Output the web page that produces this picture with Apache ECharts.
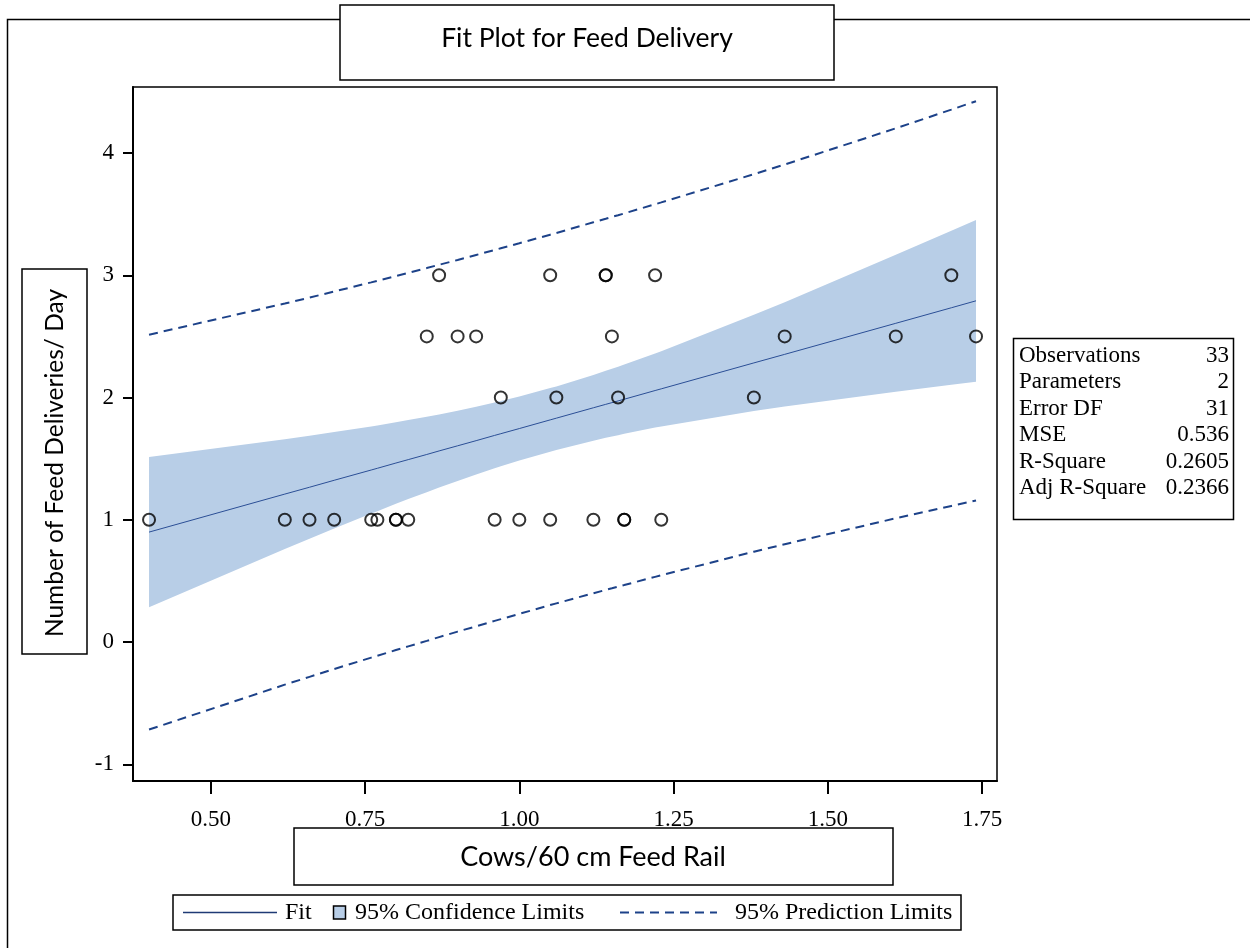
<!DOCTYPE html>
<html>
<head>
<meta charset="utf-8">
<script src="https://cdn.jsdelivr.net/npm/echarts@6/dist/echarts.min.js"></script>
<style>
  html, body { margin: 0; padding: 0; background: #fff; }
  #chart { width: 1250px; height: 948px; }
</style>
</head>
<body>
<div id="chart"></div>
<script>
// Observations: cows per 60 cm of feed rail vs. feed deliveries per day
const obsX = [0.40, 0.62, 0.66, 0.70, 0.76, 0.77, 0.80, 0.80, 0.82, 0.96, 1.00, 1.05, 1.12, 1.17, 1.17, 1.23,
              0.97, 1.06, 1.16, 1.38,
              0.85, 0.90, 0.93, 1.15, 1.43, 1.61, 1.74,
              0.87, 1.05, 1.14, 1.14, 1.22, 1.70];
const obsY = [1, 1, 1, 1, 1, 1, 1, 1, 1, 1, 1, 1, 1, 1, 1, 1,
              2, 2, 2, 2,
              2.5, 2.5, 2.5, 2.5, 2.5, 2.5, 2.5,
              3, 3, 3, 3, 3, 3];

// Fitted line, confidence band and prediction limits at the observed x values
const bandX   = [0.40, 0.62, 0.66, 0.70, 0.76, 0.77, 0.80, 0.82, 0.85, 0.87, 0.90, 0.93, 0.96, 0.97, 1.00,
                 1.05, 1.06, 1.12, 1.14, 1.15, 1.16, 1.17, 1.22, 1.23, 1.38, 1.43, 1.61, 1.70, 1.74];
const fitY    = [0.899, 1.210, 1.266, 1.323, 1.407, 1.421, 1.464, 1.492, 1.534, 1.563, 1.605, 1.647, 1.690, 1.704, 1.746,
                 1.817, 1.831, 1.916, 1.944, 1.958, 1.972, 1.986, 2.057, 2.071, 2.283, 2.353, 2.607, 2.734, 2.791];
const ciLower = [0.284, 0.761, 0.845, 0.929, 1.051, 1.070, 1.130, 1.169, 1.226, 1.264, 1.318, 1.370, 1.421, 1.437, 1.484,
                 1.557, 1.571, 1.647, 1.670, 1.681, 1.692, 1.703, 1.754, 1.763, 1.889, 1.926, 2.047, 2.104, 2.129];
const ciUpper = [1.514, 1.659, 1.687, 1.717, 1.763, 1.772, 1.798, 1.815, 1.842, 1.862, 1.892, 1.924, 1.959, 1.971, 2.008,
                 2.077, 2.091, 2.185, 2.218, 2.235, 2.252, 2.269, 2.360, 2.379, 2.677, 2.780, 3.167, 3.364, 3.453];
const piLower = [-0.716, -0.349, -0.285, -0.221, -0.128, -0.113, -0.066, -0.036, 0.009, 0.040, 0.085, 0.128, 0.173, 0.187, 0.230,
                 0.302, 0.316, 0.399, 0.426, 0.439, 0.453, 0.466, 0.533, 0.546, 0.739, 0.800, 1.012, 1.113, 1.158];
const piUpper = [2.514, 2.769, 2.817, 2.867, 2.942, 2.955, 2.994, 3.020, 3.059, 3.086, 3.125, 3.166, 3.207, 3.221, 3.262,
                 3.332, 3.346, 3.433, 3.462, 3.477, 3.491, 3.506, 3.581, 3.596, 3.827, 3.906, 4.202, 4.355, 4.424];

// Axis ticks
const xTicks = [0.50, 0.75, 1.00, 1.25, 1.50, 1.75];
const yTicks = [-1, 0, 1, 2, 3, 4];

// Texts
const chartTitle = 'Fit Plot for Feed Delivery';
const xTitle = 'Cows/60 cm Feed Rail';
const yTitle = 'Number of Feed Deliveries/ Day';
const statNames = ['Observations', 'Parameters', 'Error DF', 'MSE', 'R-Square', 'Adj R-Square'];
const statValues = ['33', '2', '31', '0.536', '0.2605', '0.2366'];
const legendNames = ['Fit', '95% Confidence Limits', '95% Prediction Limits'];

const SANS = 'Lato';
const SERIF = '"Liberation Serif", "Times New Roman", serif';
const BAND = '#b8cee7';
const FIT = '#2b4f96';
const PRED = '#1d4289';

const chart = echarts.init(document.getElementById('chart'), null, { renderer: 'canvas' });

const pairs = (xs, ys) => xs.map((x, i) => [x, ys[i]]);

// framed text box helper
function box(x, y, w, h) {
  return { type: 'rect', shape: { x: x, y: y, width: w, height: h },
           style: { fill: '#fff', stroke: '#000', lineWidth: 1.5 }, z: 10 };
}

const graphics = [
  // outer frame (left and top edges)
  { type: 'polyline', shape: { points: [[7.5, 948], [7.5, 19.5], [1250, 19.5]] },
    style: { stroke: '#000', lineWidth: 1.5, fill: null }, z: 5 },
  box(340, 5, 494, 75),
  { type: 'text', x: 587, y: 38, z: 11,
    style: { text: chartTitle, font: '26.5px ' + SANS, fill: '#000', align: 'center', verticalAlign: 'middle' } },
  box(22, 269, 65, 385),
  { type: 'text', x: 55, y: 463, rotation: Math.PI / 2, z: 11,
    style: { text: yTitle, font: '24.5px ' + SANS, fill: '#000', align: 'center', verticalAlign: 'middle' } },
  box(294, 828, 599, 57),
  { type: 'text', x: 593, y: 857, z: 11,
    style: { text: xTitle, font: '27px ' + SANS, fill: '#000', align: 'center', verticalAlign: 'middle' } },
  // legend
  box(173, 895, 788, 35),
  { type: 'line', shape: { x1: 183, y1: 912.5, x2: 277, y2: 912.5 }, style: { stroke: '#1f3a75', lineWidth: 1.5 }, z: 11 },
  { type: 'text', x: 285, y: 913, z: 11,
    style: { text: legendNames[0], font: '24px ' + SERIF, fill: '#000', align: 'left', verticalAlign: 'middle' } },
  { type: 'rect', shape: { x: 333.5, y: 906, width: 12, height: 13 },
    style: { fill: BAND, stroke: '#000', lineWidth: 1.5 }, z: 11 },
  { type: 'text', x: 355, y: 913, z: 11,
    style: { text: legendNames[1], font: '24px ' + SERIF, fill: '#000', align: 'left', verticalAlign: 'middle' } },
  { type: 'line', shape: { x1: 620, y1: 912.5, x2: 717, y2: 912.5 },
    style: { stroke: PRED, lineWidth: 2, lineDash: [9, 6] }, z: 11 },
  { type: 'text', x: 735, y: 913, z: 11,
    style: { text: legendNames[2], font: '24px ' + SERIF, fill: '#000', align: 'left', verticalAlign: 'middle' } },
  // fit statistics table
  box(1013.5, 338.5, 220, 181)
];
statNames.forEach((name, i) => {
  const cy = 356 + i * 26.4;
  graphics.push({ type: 'text', x: 1019, y: cy, z: 11,
    style: { text: name, font: '23px ' + SERIF, fill: '#000', align: 'left', verticalAlign: 'middle' } });
  graphics.push({ type: 'text', x: 1229, y: cy, z: 11,
    style: { text: statValues[i], font: '23px ' + SERIF, fill: '#000', align: 'right', verticalAlign: 'middle' } });
});

const option = {
  animation: false,
  backgroundColor: '#fff',
  grid: { left: 133, top: 87, width: 864, height: 694, show: true,
          borderColor: '#000', borderWidth: 1.5, backgroundColor: 'transparent' },
  xAxis: {
    type: 'value', min: 0.374, max: 1.774,
    splitLine: { show: false },
    axisLine: { show: true, onZero: false, lineStyle: { color: '#000', width: 2 } },
    axisTick: { show: true, customValues: xTicks, length: 13, lineStyle: { color: '#000', width: 2 } },
    axisLabel: { customValues: xTicks, margin: 27, color: '#000', fontFamily: SERIF, fontSize: 23,
                 formatter: v => v.toFixed(2) }
  },
  yAxis: {
    type: 'value', min: -1.137, max: 4.54,
    splitLine: { show: false },
    axisLine: { show: true, onZero: false, lineStyle: { color: '#000', width: 2 } },
    axisTick: { show: true, customValues: yTicks, length: 10, lineStyle: { color: '#000', width: 2 } },
    axisLabel: { customValues: yTicks, margin: 19, color: '#000', fontFamily: SERIF, fontSize: 23,
                 formatter: v => String(v) }
  },
  series: [
    {
      name: legendNames[1], type: 'custom', silent: true, z: 1,
      data: bandX.map((x, i) => [x, ciLower[i], ciUpper[i]]),
      encode: { x: 0, y: [1, 2] },
      renderItem: function (params, api) {
        if (params.dataIndex !== 0) return null;
        const pts = [];
        for (let i = 0; i < bandX.length; i++) pts.push(api.coord([bandX[i], ciUpper[i]]));
        for (let i = bandX.length - 1; i >= 0; i--) pts.push(api.coord([bandX[i], ciLower[i]]));
        return { type: 'polygon', shape: { points: pts }, style: { fill: BAND } };
      }
    },
    { name: legendNames[0], type: 'line', z: 2, data: pairs(bandX, fitY), showSymbol: false, silent: true,
      lineStyle: { color: FIT, width: 1 } },
    { name: legendNames[2], type: 'line', z: 2, data: pairs(bandX, piUpper), showSymbol: false, silent: true,
      lineStyle: { color: PRED, width: 2, type: [9, 6] } },
    { name: legendNames[2] + ' lower', type: 'line', z: 2, data: pairs(bandX, piLower), showSymbol: false, silent: true,
      lineStyle: { color: PRED, width: 2, type: [9, 6] } },
    { name: 'Observed', type: 'scatter', z: 3, data: pairs(obsX, obsY), symbol: 'circle', symbolSize: 12,
      itemStyle: { color: 'rgba(0,0,0,0)', borderColor: '#000', borderWidth: 2 } }
  ],
  graphic: { elements: graphics }
};

chart.setOption(option);
</script>
</body>
</html>
